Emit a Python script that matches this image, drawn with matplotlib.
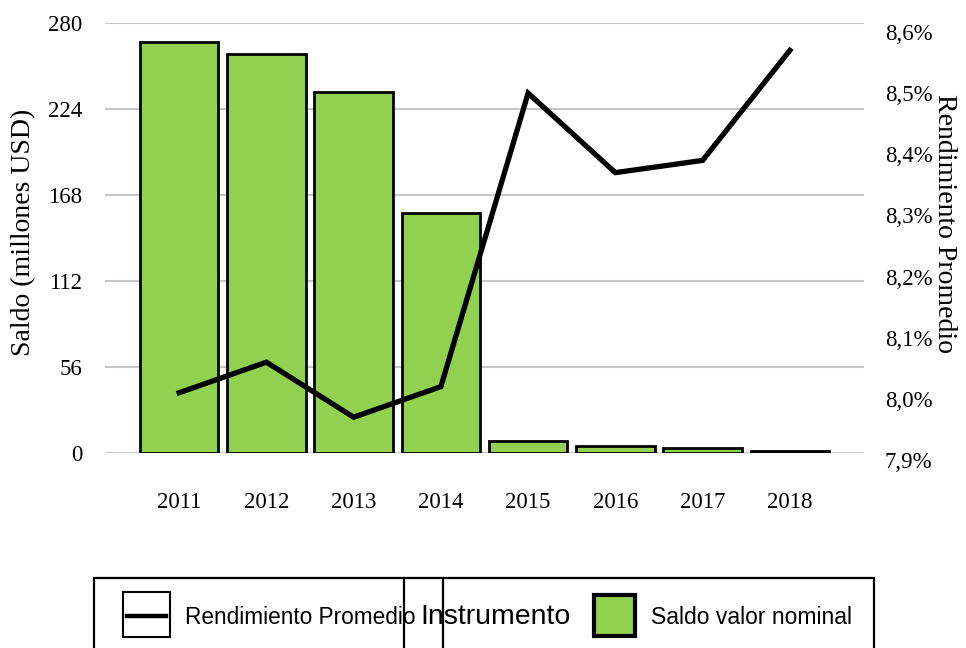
import matplotlib.pyplot as plt
from matplotlib.patches import Rectangle
from matplotlib.lines import Line2D

# data
years = ["2011", "2012", "2013", "2014", "2015", "2016", "2017", "2018"]
saldo = [267.6, 260.2, 235.2, 156.5, 7.8, 4.3, 3.0, 1.0]
rendimiento = [8.01, 8.06, 7.97, 8.02, 8.50, 8.37, 8.39, 8.57]
saldo_ticks = [0, 56, 112, 168, 224, 280]
rend_ticks = [7.9, 8.0, 8.1, 8.2, 8.3, 8.4, 8.5, 8.6]

green = "#92D050"
W, H = 966, 648

plt.rcParams["font.family"] = ["Liberation Serif", "DejaVu Serif"]

fig = plt.figure(figsize=(W / 100, H / 100), dpi=100)

def fx(px):
    return px / W

def fy(py):
    return 1 - py / H

# bar axes
ax = fig.add_axes([fx(105), fy(452.8), fx(864) - fx(105), fy(23.3) - fy(452.8)])
x = list(range(len(years)))
ax.bar(x, saldo, width=0.9, color=green, edgecolor="black", linewidth=2, zorder=3)
ax.set_ylim(0, 280)
ax.set_xlim(-0.85, 7.85)
ax.set_yticks(saldo_ticks)
ax.set_yticklabels([str(t) for t in saldo_ticks], fontsize=16.5)
ax.set_xticks(x)
ax.set_xticklabels(years, fontsize=16.5)
ax.tick_params(axis="y", length=0, pad=16.5)
ax.tick_params(axis="x", length=0, pad=28)
ax.grid(axis="y", color="#C8C8C8", linewidth=1.5, zorder=0)
for s in ax.spines.values():
    s.set_visible(False)

# line axes (own vertical extent, like the original)
ax2 = fig.add_axes([fx(105), fy(460), fx(864) - fx(105), fy(32) - fy(460)])
ax2.patch.set_visible(False)
ax2.plot(x, rendimiento, color="black", linewidth=3.8, solid_joinstyle="miter", zorder=4)
ax2.set_xlim(-0.85, 7.85)
ax2.set_ylim(7.9, 8.6)
ax2.set_xticks([])
ax2.yaxis.tick_right()
ax2.set_yticks(rend_ticks)
ax2.set_yticklabels([f"{t:.1f}%".replace(".", ",") for t in rend_ticks], fontsize=16.5)
ax2.tick_params(axis="y", length=0, pad=15)
for s in ax2.spines.values():
    s.set_visible(False)

fig.text(fx(24), fy(232), "Saldo (millones USD)", rotation=90, fontsize=20,
         ha="center", va="center")
fig.text(fx(945), fy(223), "Rendimiento Promedio", rotation=270, fontsize=20,
         ha="center", va="center")

# legend box (cut off at bottom, as in original)
sans = ["Liberation Sans", "DejaVu Sans"]
fig.add_artist(Rectangle((fx(94), fy(670)), fx(874) - fx(94), fy(578) - fy(670),
                         transform=fig.transFigure, facecolor="white",
                         edgecolor="black", linewidth=1.6, clip_on=False))
for xd in [404.3, 442.7]:
    fig.add_artist(Line2D([fx(xd), fx(xd)], [fy(578), fy(670)], transform=fig.transFigure,
                          color="black", linewidth=1.6))
fig.add_artist(Rectangle((fx(123), fy(636.7)), fx(170) - fx(123), fy(592) - fy(636.7),
                         transform=fig.transFigure, facecolor="white",
                         edgecolor="black", linewidth=1.5))
fig.add_artist(Line2D([fx(127), fx(166)], [fy(616), fy(616)], transform=fig.transFigure,
                      color="black", linewidth=3.2))
fig.text(fx(185), fy(617), "Rendimiento Promedio", family=sans, fontsize=16.3,
         ha="left", va="center")
fig.text(fx(420), fy(617), "Instrumento", family=sans, fontsize=20.5,
         ha="left", va="center")
fig.add_artist(Rectangle((fx(594), fy(636)), fx(635) - fx(594), fy(595) - fy(636),
                         transform=fig.transFigure, facecolor=green,
                         edgecolor="black", linewidth=3))
fig.text(fx(651), fy(617), "Saldo valor nominal", family=sans, fontsize=16.5,
         ha="left", va="center")

fig.savefig("out.png", dpi=100)
